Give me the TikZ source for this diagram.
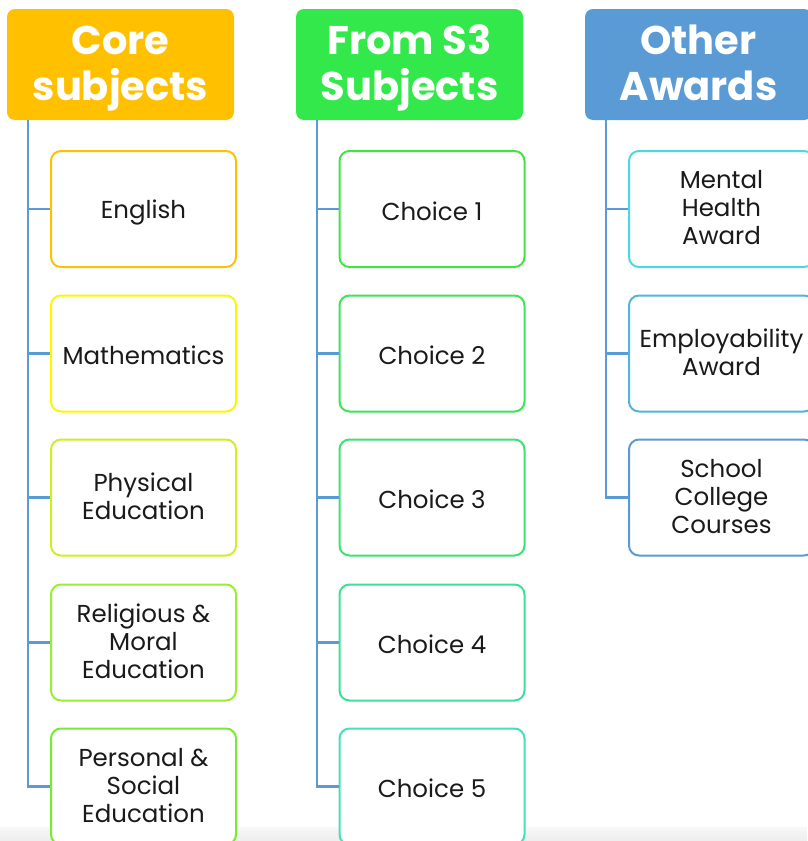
\documentclass[tikz,border=0pt]{standalone}
\usepackage{fontspec}
\setmainfont{Poppins}
\usepackage{xcolor}
\usetikzlibrary{positioning,calc}

\definecolor{coreC}{HTML}{FFC000}
\definecolor{sthreeC}{HTML}{33E84A}
\definecolor{otherC}{HTML}{5B9BD5}
\definecolor{engC}{HTML}{FFC000}
\definecolor{mathC}{HTML}{F8F800}
\definecolor{peC}{HTML}{CCF022}
\definecolor{rmeC}{HTML}{99EE33}
\definecolor{pseC}{HTML}{77EA33}
\definecolor{chA}{HTML}{44E344}
\definecolor{chB}{HTML}{3DE455}
\definecolor{chC}{HTML}{3DE272}
\definecolor{chD}{HTML}{3EE095}
\definecolor{chE}{HTML}{45E0B8}
\definecolor{mhC}{HTML}{4DD8DD}
\definecolor{emC}{HTML}{4FB5DA}
\definecolor{scC}{HTML}{5B9BD5}
\definecolor{lineC}{HTML}{5B9BD5}
\definecolor{inkC}{HTML}{1A1A1A}

% header text in a fixed box, first baseline 45pt below its top
\newcommand{\headtext}[1]{\parbox[c][111pt][t]{227pt}{\centering\rule{0pt}{45pt}#1}}
% strut that fixes the first and last line of a box
\newcommand{\itemstrut}{\rule[-3pt]{0pt}{28pt}}

\tikzset{
  head/.style={fill=#1, rounded corners=8pt, minimum width=227pt, minimum height=111pt,
    text=white, font=\fontsize{40}{46}\selectfont\bfseries, inner sep=0pt},
  item/.style={draw=#1, line width=2pt, fill=white, rounded corners=10pt,
    minimum width=185pt, minimum height=116pt, align=center, inner sep=0pt,
    text=inkC, font=\fontsize{24.5}{28}\selectfont,
    execute at begin node=\itemstrut, execute at end node=\itemstrut},
  branch/.style={draw=lineC, line width=2.5pt}
}

\begin{document}
\begin{tikzpicture}[x=1pt,y=-1pt]
    \useasboundingbox (0,0) rectangle (807,841);
    \fill[white] (0,0) rectangle (807,841);
    % strip along the bottom edge
    \shade[top color=gray!6, bottom color=gray!14] (0,827) rectangle (807,841);

    % headers
    \node[head=coreC] (core) at (120.5,64.5) {\headtext{Core\\subjects}};
    \node[head=sthreeC] (sthree) at (409.5,64.5) {\headtext{From S3\\Subjects}};
    \node[head=otherC] (other) at (698.5,64.5) {\headtext{Other\\Awards}};

    % Core subjects
    \node[item=engC] (eng) at (143.5,209) {English};
    \node[item=mathC] (math) at (143.5,353.5) {Mathematics};
    \node[item=peC] (pe) at (143.5,497.5) {Physical\\Education};
    \node[item=rmeC] (rme) at (143.5,642.5) {Religious \&\\Moral\\Education};
    \node[item=pseC] (pse) at (143.5,786.5) {Personal \&\\Social\\Education};

    % From S3 subjects
    \node[item=chA] (chone) at (432,209) {Choice 1};
    \node[item=chB] (chtwo) at (432,353.5) {Choice 2};
    \node[item=chC] (chthree) at (432,497.5) {Choice 3};
    \node[item=chD] (chfour) at (432,642.5) {Choice 4};
    \node[item=chE] (chfive) at (432,786.5) {Choice 5};

    % Other awards
    \node[item=mhC] (mental) at (721.5,209) {Mental\\Health\\Award};
    \node[item=emC] (employ) at (721.5,353.5) {Employability\\Award};
    \node[item=scC] (school) at (721.5,497.5) {School\\College\\Courses};

    % branches
    \coordinate (coreT) at ([xshift=21pt]core.south west);
    \coordinate (sthreeT) at ([xshift=21pt]sthree.south west);
    \coordinate (otherT) at ([xshift=21pt]other.south west);
    \draw[branch] (coreT) |- (eng.west);
    \draw[branch] (coreT) |- (math.west);
    \draw[branch] (coreT) |- (pe.west);
    \draw[branch] (coreT) |- (rme.west);
    \draw[branch] (coreT) |- (pse.west);
    \draw[branch] (sthreeT) |- (chone.west);
    \draw[branch] (sthreeT) |- (chtwo.west);
    \draw[branch] (sthreeT) |- (chthree.west);
    \draw[branch] (sthreeT) |- (chfour.west);
    \draw[branch] (sthreeT) |- (chfive.west);
    \draw[branch] (otherT) |- (mental.west);
    \draw[branch] (otherT) |- (employ.west);
    \draw[branch] (otherT) |- (school.west);
\end{tikzpicture}
\end{document}
